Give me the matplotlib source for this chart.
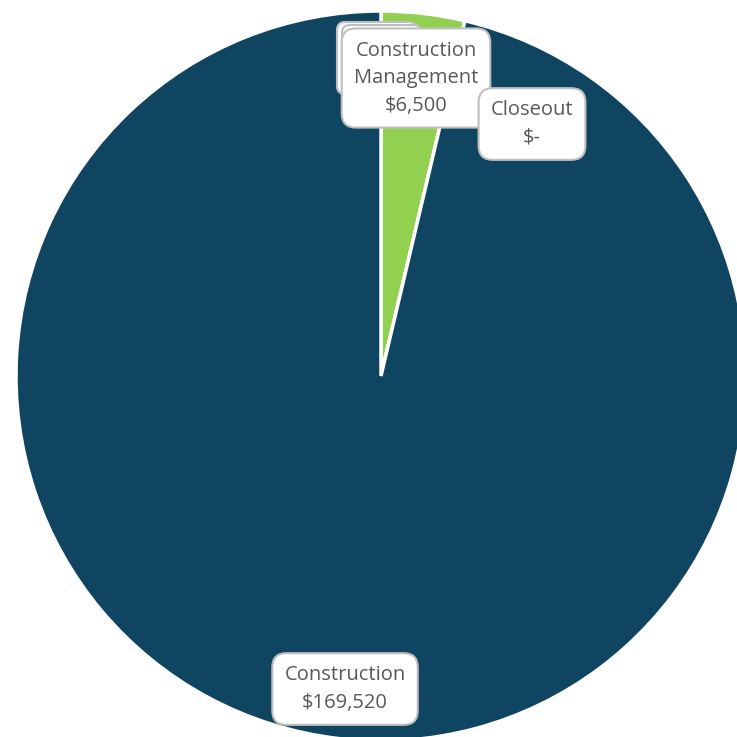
import matplotlib
matplotlib.use("Agg")
import matplotlib.pyplot as plt
from matplotlib.patches import FancyBboxPatch

categories = ["Construction Management", "Closeout", "Construction"]
values = [6500, 0, 169520]
colors = ["#92D050", "#92D050", "#0F4561"]
label_text = ["Construction\nManagement", "Closeout", "Construction"]
# label box centres in pixels (x, y from top)
label_pos = [(416, 78), (532, 124), (345, 689)]

W = 737
fig = plt.figure(figsize=(7.37, 7.37), dpi=100)
ax = fig.add_axes([0, 0, 1, 1])

ax.pie(values, colors=colors, startangle=90, counterclock=False,
       center=(381, W - 376), radius=365,
       wedgeprops=dict(edgecolor="white", linewidth=2.5))
ax.set_xlim(0, W)
ax.set_ylim(0, W)
ax.set_aspect("equal")
ax.axis("off")

# zero-value label boxes hidden behind the Construction Management label
for (x0, y0) in [(337, 22), (342, 25)]:
    ax.add_patch(FancyBboxPatch((x0 + 8, W - y0 - 72 + 8), 80 - 16, 72 - 16,
                                boxstyle="round,pad=8", facecolor="white",
                                edgecolor="#BFBFBF", linewidth=1.5))

box = dict(boxstyle="round,pad=0.6,rounding_size=0.7", facecolor="white",
           edgecolor="#BFBFBF", linewidth=1.5)

for txt, v, (x, y) in zip(label_text, values, label_pos):
    val = "$-" if v == 0 else f"${v:,}"
    ax.text(x, W - y, f"{txt}\n{val}", ha="center", va="center", fontsize=14.5,
            family="Open Sans", color="#595959", linespacing=1.5, bbox=box)

fig.savefig("out.png", dpi=100)
